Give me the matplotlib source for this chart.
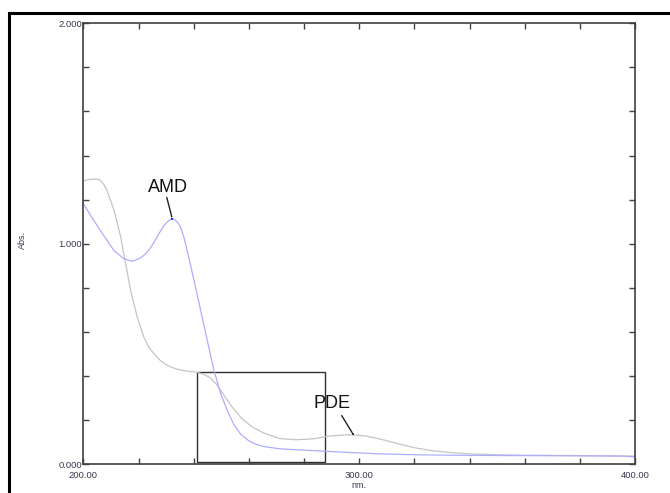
"""UV absorbance spectra of AMD and PDE (200-400 nm) with the zoom window marked."""
import matplotlib
matplotlib.use("Agg")
import matplotlib.pyplot as plt
from matplotlib.patches import Rectangle

# wavelength (nm) and absorbance
pde_nm = [200.0, 201.8, 203.8, 205.2, 206.2, 207.4, 208.6, 211.1, 213.5, 215.3,
          217.1, 219.5, 221.9, 223.7, 225.6, 228.0, 230.4, 233.4, 236.4, 241.3,
          243.8, 246.1, 248.2, 250.0, 253.5, 257.5, 261.5, 265.5, 271.0, 277.0,
          283.0, 289.0, 296.0, 302.0, 308.0, 314.0, 320.0, 326.0, 332.0, 340.0,
          350.0, 360.0, 370.0, 380.0, 390.0, 400.0]
pde_abs = [1.285, 1.291, 1.293, 1.292, 1.286, 1.268, 1.240, 1.150, 1.030, 0.908,
           0.787, 0.666, 0.575, 0.530, 0.500, 0.468, 0.447, 0.432, 0.424, 0.416,
           0.406, 0.390, 0.362, 0.330, 0.265, 0.205, 0.165, 0.140, 0.116, 0.110,
           0.114, 0.127, 0.133, 0.128, 0.112, 0.092, 0.074, 0.061, 0.053, 0.046,
           0.042, 0.040, 0.039, 0.038, 0.037, 0.036]

amd_nm = [200.0, 203.8, 207.4, 211.1, 214.7, 217.7, 220.7, 222.6, 224.4, 226.2,
          228.0, 229.4, 230.5, 231.4, 232.2, 233.0, 233.8, 234.5, 235.2, 236.4,
          237.6, 240.1, 242.5, 244.9, 247.3, 249.8, 252.1, 254.5, 257.0, 260.0,
          262.5, 265.0, 271.0, 283.0, 295.0, 307.5, 320.0, 340.0, 360.0, 380.0,
          395.0, 400.0]
amd_abs = [1.180, 1.104, 1.036, 0.968, 0.931, 0.920, 0.935, 0.955, 0.983, 1.020,
           1.059, 1.086, 1.100, 1.108, 1.112, 1.110, 1.100, 1.090, 1.074, 1.030,
           0.968, 0.832, 0.696, 0.560, 0.424, 0.318, 0.243, 0.180, 0.135, 0.105,
           0.090, 0.080, 0.069, 0.061, 0.053, 0.046, 0.042, 0.039, 0.038, 0.037,
           0.036, 0.032]

# peak labels: (text, point on curve, leader start, text position, dot colour)
labels = [
    ("AMD", (232.2, 1.112), (230.2, 1.21), (230.6, 1.255), "#3333ff"),
    ("PDE", (297.8, 0.134), (293.6, 0.22), (290.1, 0.275), "#333333"),
]
# zoom window (nm, Abs)
box_x = (241.0, 287.6)
box_y = (0.009, 0.418)

plt.rcParams["font.family"] = ["Liberation Sans", "DejaVu Sans"]
TICK_COL = "#383850"

fig = plt.figure(figsize=(6.7, 4.93), dpi=100)
ax = fig.add_axes([0.1246, 0.0588, 0.948 - 0.1246, 0.9527 - 0.0588])

ax.plot(pde_nm, pde_abs, color="#c4c4c4", lw=0.9)
ax.plot(amd_nm, amd_abs, color="#adadff", lw=0.9)

for txt, pt, start, tpos, dotc in labels:
    ax.annotate("", xy=pt, xytext=start,
                arrowprops=dict(arrowstyle="-", color="#222222", lw=1.0,
                                shrinkA=0, shrinkB=1.5))
    ax.plot([pt[0]], [pt[1]], marker="s", ms=1.6, color=dotc, mew=0)
    ax.text(tpos[0], tpos[1], txt, ha="center", va="center", fontsize=13,
            color="#111111")

ax.add_patch(Rectangle((box_x[0], box_y[0]), box_x[1] - box_x[0],
                       box_y[1] - box_y[0], fill=False, ec="#303030", lw=1.0))

ax.set_xlim(200, 400)
ax.set_ylim(0, 2.0)
ax.set_xticks([200, 300, 400])
ax.set_xticklabels(["200.00", "300.00", "400.00"])
ax.set_xticks(list(range(220, 400, 20)), minor=True)
ax.set_yticks([0, 1, 2])
ax.set_yticklabels(["0.000", "1.000", "2.000"])
ax.set_yticks([0.2, 0.4, 0.6, 0.8, 1.2, 1.4, 1.6, 1.8], minor=True)
ax.tick_params(which="both", direction="in", top=True, right=True,
               length=4.5, width=1.0, color="#404040")
ax.tick_params(axis="x", which="major", labelsize=6.8, labelcolor=TICK_COL, pad=5)
ax.tick_params(axis="y", which="major", labelsize=6.8, labelcolor=TICK_COL, pad=1)
for s in ax.spines.values():
    s.set_color("#404040")
    s.set_linewidth(1.2)

ax.set_xlabel("nm.", fontsize=6.5, color=TICK_COL, labelpad=1)
fig.text(22 / 670, 1 - 240 / 493, "Abs.", rotation=90, fontsize=6.5,
         color=TICK_COL, ha="center", va="center")

# outer frame of the original screenshot
fig.patches.append(Rectangle((8.5 / 670, -0.2), 2.0, 1.2 - 12.5 / 493,
                             transform=fig.transFigure, fill=False,
                             ec="black", lw=2.2))

fig.savefig("out.png", dpi=100)
